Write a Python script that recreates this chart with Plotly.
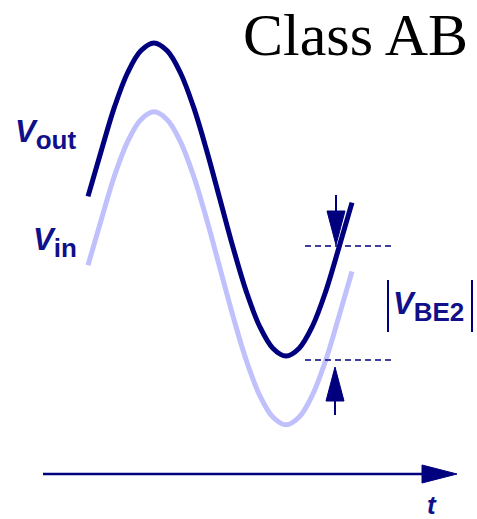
import plotly.graph_objects as go

# ---- data ----
t = [0.0, 0.1, 0.2, 0.3, 0.4, 0.5, 0.6, 0.7, 0.8, 0.9, 1.0,
     1.1, 1.2, 1.3, 1.4, 1.5, 1.6, 1.7, 1.8, 1.9, 2.0]
v_out = [0.02, 0.31, 0.59, 0.81, 0.95, 1.00, 0.95, 0.81, 0.59, 0.31, 0.00,
         -0.31, -0.59, -0.81, -0.95, -1.00, -0.95, -0.81, -0.59, -0.31, -0.02]
v_in = [-0.42, -0.13, 0.15, 0.37, 0.51, 0.56, 0.51, 0.37, 0.15, -0.13, -0.44,
        -0.75, -1.03, -1.25, -1.39, -1.44, -1.39, -1.25, -1.03, -0.75, -0.46]

W, H = 477, 519
NAVY = "#00007f"
LIGHT = "#c0c0fc"
TXT = "#10108a"


def px(x):
    return x / W


def py(y):
    return 1 - y / H


fig = go.Figure()
fig.add_trace(go.Scatter(x=t, y=v_in, mode="lines", line=dict(color=LIGHT, width=5, shape="spline"),
                         hoverinfo="skip", showlegend=False))
fig.add_trace(go.Scatter(x=t, y=v_out, mode="lines", line=dict(color=NAVY, width=5, shape="spline"),
                         hoverinfo="skip", showlegend=False))

shapes = []
# dashed reference lines
for yy in (246, 360):
    shapes.append(dict(type="line", xref="paper", yref="paper", x0=px(305), x1=px(393), y0=py(yy), y1=py(yy),
                       line=dict(color=NAVY, width=1.5, dash="6px,4px")))
# down arrow (shaft + head)
shapes.append(dict(type="line", xref="paper", yref="paper", x0=px(336), x1=px(336), y0=py(195), y1=py(215),
                   line=dict(color=NAVY, width=2)))
shapes.append(dict(type="path", xref="paper", yref="paper",
                   path=f"M{px(327)},{py(211)} L{px(345)},{py(211)} L{px(336)},{py(245)} Z",
                   fillcolor=NAVY, line=dict(color=NAVY, width=1)))
# up arrow
shapes.append(dict(type="line", xref="paper", yref="paper", x0=px(335), x1=px(335), y0=py(415), y1=py(398),
                   line=dict(color=NAVY, width=2)))
shapes.append(dict(type="path", xref="paper", yref="paper",
                   path=f"M{px(326)},{py(401)} L{px(344)},{py(401)} L{px(335)},{py(367)} Z",
                   fillcolor=NAVY, line=dict(color=NAVY, width=1)))
# |VBE2| bars
for xx in (388, 472):
    shapes.append(dict(type="line", xref="paper", yref="paper", x0=px(xx), x1=px(xx), y0=py(280), y1=py(332),
                       line=dict(color=NAVY, width=2)))
# time axis
shapes.append(dict(type="line", xref="paper", yref="paper", x0=px(43), x1=px(425), y0=py(474), y1=py(474),
                   line=dict(color=NAVY, width=2.5)))
shapes.append(dict(type="path", xref="paper", yref="paper",
                   path=f"M{px(422)},{py(465)} L{px(457)},{py(474)} L{px(422)},{py(483)} Z",
                   fillcolor=NAVY, line=dict(color=NAVY, width=1)))

SANS = "Liberation Sans, Arial, sans-serif"


def vlabel(sub):
    return ("<b><i>V</i></b><sub><b><span style='font-size:26px'>" + sub + "</span></b></sub>")


annotations = [
    dict(text="Class AB", x=px(470), y=py(35), xanchor="right", yanchor="middle",
         font=dict(family="Liberation Serif, Times New Roman, serif", size=60, color="black")),
    dict(text=vlabel("out"), x=px(13), y=py(134), xanchor="left", yanchor="middle",
         font=dict(family=SANS, size=31, color=TXT)),
    dict(text=vlabel("in"), x=px(31), y=py(242), xanchor="left", yanchor="middle",
         font=dict(family=SANS, size=31, color=TXT)),
    dict(text=vlabel("BE2"), x=px(391), y=py(307), xanchor="left", yanchor="middle",
         font=dict(family=SANS, size=31, color=TXT)),
    dict(text="<b><i>t</i></b>", x=px(432), y=py(505), xanchor="center", yanchor="middle",
         font=dict(family=SANS, size=26, color=TXT)),
]
for a in annotations:
    a.update(xref="paper", yref="paper", showarrow=False)

fig.update_layout(
    width=W, height=H,
    margin=dict(l=0, r=0, t=0, b=0),
    paper_bgcolor="white", plot_bgcolor="white",
    xaxis=dict(range=[(0 - 88) / 132, (W - 88) / 132], visible=False, fixedrange=True),
    yaxis=dict(range=[(199.5 - H) / 156.5, 199.5 / 156.5], visible=False, fixedrange=True),
    shapes=shapes, annotations=annotations, showlegend=False,
)
fig.write_html("out.html", config={"displayModeBar": False},
               post_script="document.body.style.margin='0px';")
